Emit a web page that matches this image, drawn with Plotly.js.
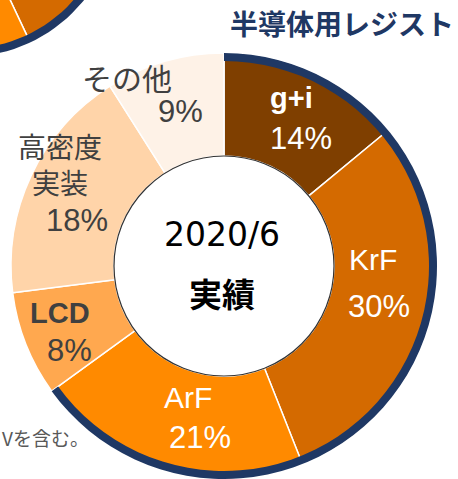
<!DOCTYPE html>
<html>
<head>
<meta charset="utf-8">
<script src="https://cdn.plot.ly/plotly-3.0.1.min.js"></script>
<style>html,body{margin:0;padding:0;background:#fff;}#chart{width:458px;height:479px;}</style>
</head>
<body>
<div id="chart"></div>
<script>
// ---------------- data ----------------
const categories = ['g+i', 'KrF', 'ArF', 'LCD', '高密度実装', 'その他'];
const shares = [14, 30, 21, 8, 18, 9];            // % (2020/6 実績)
const resistCount = 3;                            // 半導体用レジスト = g+i, KrF, ArF
const centerLines = ['2020/6', '実績'];
const titleText = '半導体用レジスト';
const noteText = 'Vを含む。';
// neighbouring chart, cropped at the top-left corner (estimated)
const prevShares = [14, 29, 21, 8, 19, 9];

// ---------------- layout / style ----------------
const W = 458, H = 479;
const C = {x: 224, y: 266}, R = 213, HOLE = 110, RING = 8;
const C2 = {x: -35, y: -96}, R2 = 153;
const colors = ['#7F3F00', '#D46A00', '#FF8A00', '#FFA84F', '#FFD4A9', '#FEF2E7'];
const navy = '#1F3864';
const dark = '#404040';
const textColors = ['#FFFFFF', '#FFFFFF', '#FFFFFF', dark, dark, dark];
const boldName = [true, false, false, true, false, false];
const nameBreak = {'高密度実装': 3};
// visual centres (px) of the name block and of the % line
const labelPos = [
  [[291, 98], [301, 138]],
  [[373, 259], [379, 306]],
  [[188, 397], [200, 437]],
  [[60, 313], [69, 350]],
  [[60, 164], [77, 220]],
  [[127, 77], [180, 111]]
];
const latin = 'Liberation Sans, Arial, Noto Sans CJK JP, sans-serif';
const cjk = 'Noto Sans CJK JP, sans-serif';

// ---------------- traces ----------------
const traces = [];

function arc(cx, cy, r, a0, a1, n) {
  const xs = [], ys = [];
  for (let k = 0; k <= n; k++) {
    const a = (a0 + (a1 - a0) * k / n) * Math.PI / 180;
    xs.push(cx + r * Math.sin(a));
    ys.push(cy - r * Math.cos(a));
  }
  return [xs, ys];
}
function band(cx, cy, rOut, rIn, a0, a1) {
  const o = arc(cx, cy, rOut, a0, a1, 80);
  const i = arc(cx, cy, rIn, a1, a0, 80);
  return [o[0].concat(i[0], [o[0][0]]), o[1].concat(i[1], [o[1][0]])];
}

// cropped neighbouring donut (drawn in pixel-space axes, clipped by the plot area)
const prevTotal = prevShares.reduce((a, b) => a + b, 0);
let acc = 0;
prevShares.forEach((v, i) => {
  const a0 = acc / prevTotal * 360; acc += v;
  const a1 = acc / prevTotal * 360;
  const p = band(C2.x, C2.y, R2, R2 * HOLE / R, a0, a1);
  traces.push({type: 'scatter', mode: 'lines', x: p[0], y: p[1], fill: 'toself',
    fillcolor: colors[i], line: {color: '#FFFFFF', width: 1.5}, hoverinfo: 'skip', showlegend: false});
});
const prevResist = prevShares.slice(0, resistCount).reduce((a, b) => a + b, 0);
const pr = band(C2.x, C2.y, R2, R2 - RING, 0, prevResist / prevTotal * 360);
traces.push({type: 'scatter', mode: 'lines', x: pr[0], y: pr[1], fill: 'toself',
  fillcolor: navy, line: {color: navy, width: 0}, hoverinfo: 'skip', showlegend: false});

// main donut
const domain = {
  x: [(C.x - R) / W, (C.x + R) / W],
  y: [(H - C.y - R) / H, (H - C.y + R) / H]
};
traces.push({
  type: 'pie', labels: categories, values: shares, sort: false, direction: 'clockwise',
  rotation: 0, hole: HOLE / R, domain: domain, textinfo: 'none', hoverinfo: 'label+percent',
  marker: {colors: colors, line: {color: '#FFFFFF', width: 1.5}}, showlegend: false
});
const total = shares.reduce((a, b) => a + b, 0);
const resistSum = shares.slice(0, resistCount).reduce((a, b) => a + b, 0);
traces.push({
  type: 'pie', labels: ['半導体用レジスト', 'その他用途'], values: [resistSum, total - resistSum],
  sort: false, direction: 'clockwise', rotation: 0, hole: (R - RING) / R, domain: domain,
  textinfo: 'none', hoverinfo: 'skip',
  marker: {colors: [navy, 'rgba(0,0,0,0)'], line: {width: 0}}, showlegend: false
});

// ---------------- annotations ----------------
const annotations = [];
categories.forEach((name, i) => {
  const br = nameBreak[name];
  const nameText = br ? name.slice(0, br) + '<br>' + name.slice(br) : name;
  const isCJK = /[^\x00-\x7F]/.test(name);
  const pos = labelPos[i][0];
  annotations.push({x: pos[0], y: pos[1], xref: 'x', yref: 'y', showarrow: false,
    xanchor: 'center', yanchor: 'middle', align: 'center',
    text: boldName[i] ? '<b>' + nameText + '</b>' : nameText,
    font: {family: isCJK ? cjk : latin, size: isCJK ? (br ? 28 : 30) : (boldName[i] ? 29 : 30), color: textColors[i]}});
  const pp = labelPos[i][1];
  annotations.push({x: pp[0], y: pp[1], xref: 'x', yref: 'y', showarrow: false,
    xanchor: 'center', yanchor: 'middle', text: shares[i] + '%',
    font: {family: latin, size: 31, color: textColors[i]}});
});
annotations.push({x: C.x - 2, y: 234, xref: 'x', yref: 'y', showarrow: false,
  xanchor: 'center', yanchor: 'middle', text: centerLines[0],
  font: {family: 'DejaVu Sans, sans-serif', size: 33, color: '#000000'}});
annotations.push({x: C.x - 2, y: 293, xref: 'x', yref: 'y', showarrow: false,
  xanchor: 'center', yanchor: 'middle', text: '<b>' + centerLines[1] + '</b>',
  font: {family: cjk, size: 33, color: '#000000'}});
annotations.push({x: 0, y: 437, xref: 'x', yref: 'y', showarrow: false,
  xanchor: 'left', yanchor: 'middle', text: noteText,
  font: {family: cjk, size: 19, color: '#595959'}});

const layout = {
  width: W, height: H, margin: {l: 0, r: 0, t: 0, b: 0, pad: 0},
  paper_bgcolor: '#FFFFFF', plot_bgcolor: 'rgba(0,0,0,0)', showlegend: false,
  title: {text: '<b>' + titleText + '</b>', x: 342 / W, xanchor: 'center', xref: 'paper',
    y: 1 - 25 / H, yanchor: 'middle', yref: 'container',
    font: {family: cjk, size: 28, color: navy}},
  xaxis: {range: [0, W], visible: false, fixedrange: true, domain: [0, 1]},
  yaxis: {range: [H, 0], visible: false, fixedrange: true, domain: [0, 1]},
  shapes: [{type: 'circle', xref: 'x', yref: 'y', x0: C.x - HOLE, x1: C.x + HOLE,
    y0: C.y - HOLE, y1: C.y + HOLE, line: {color: '#333333', width: 1.2}, fillcolor: 'rgba(0,0,0,0)', layer: 'above'}],
  annotations: annotations
};

Plotly.newPlot('chart', traces, layout, {displayModeBar: false, staticPlot: true});
</script>
</body>
</html>
